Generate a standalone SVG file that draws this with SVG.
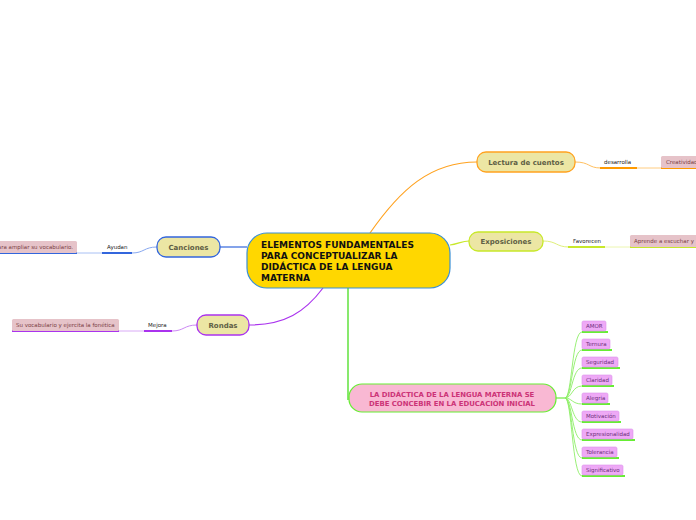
<svg xmlns="http://www.w3.org/2000/svg" width="696" height="520" viewBox="0 0 696 520">
<style>
.main{fill:#FFD700;stroke:#3A8FD6;stroke-width:1.2}
.mt{font-family:"DejaVu Sans",Verdana,sans-serif;font-weight:bold;font-size:9px;fill:#111}
.topic{fill:#ECE6A4;stroke-width:1.3}
.tt{font-family:"DejaVu Sans",Verdana,sans-serif;font-weight:bold;font-size:7px;fill:#5f5f45;text-anchor:middle}
.lbl{font-family:"DejaVu Sans",Verdana,sans-serif;font-size:5.5px;fill:#222}
.pk{fill:#E6C3C9;stroke:none}
.pt{font-family:"DejaVu Sans",Verdana,sans-serif;font-size:5.5px;fill:#7a3f45}
.lf{fill:#EEA9F6;stroke:#DC92EC;stroke-width:0.6}
.lt{font-family:"DejaVu Sans",Verdana,sans-serif;font-size:5.5px;fill:#6b2f7a}
.c{fill:none}
</style>
<rect width="696" height="520" fill="#fff"/>
<g id="connectors">
<path class="c" d="M370,233 C400,190 430,162 477,162" stroke="#FFA21F" stroke-width="1.2"/>
<path class="c" d="M575,162 C590,162 588,168 601,168" stroke="#FFC060" stroke-width="1"/>
<line x1="600" y1="168" x2="637" y2="168" stroke="#FF9A00" stroke-width="2"/>
<line x1="637" y1="168" x2="661" y2="168" stroke="#FFCC80" stroke-width="1"/>
<line x1="661" y1="168" x2="696" y2="168" stroke="#FF9A00" stroke-width="2"/>
<path class="c" d="M450,245 C458,244 462,241 469,241" stroke="#C8E82A" stroke-width="1.2"/>
<path class="c" d="M543,241 C557,241 556,247 569,247" stroke="#E0F07A" stroke-width="1"/>
<line x1="568" y1="247" x2="605" y2="247" stroke="#C8E82A" stroke-width="2"/>
<line x1="605" y1="247" x2="630" y2="247" stroke="#ECF6B0" stroke-width="1"/>
<line x1="630" y1="247" x2="696" y2="247" stroke="#C8E82A" stroke-width="2"/>
<path class="c" d="M247,247 C235,247 230,247 220,247" stroke="#3366DD" stroke-width="1.2"/>
<path class="c" d="M157,247 C144,247 144,253 132,253" stroke="#88A8F0" stroke-width="1"/>
<line x1="102" y1="253" x2="132" y2="253" stroke="#3366DD" stroke-width="2"/>
<line x1="77" y1="253" x2="102" y2="253" stroke="#A8C0F4" stroke-width="1"/>
<line x1="0" y1="253" x2="77" y2="253" stroke="#3366DD" stroke-width="2"/>
<path class="c" d="M323,288 C305,312 285,325 249,325" stroke="#AA33EE" stroke-width="1.2"/>
<path class="c" d="M197,325 C184,325 184,331 172,331" stroke="#CC88F4" stroke-width="1"/>
<line x1="144" y1="331" x2="172" y2="331" stroke="#AA33EE" stroke-width="2"/>
<line x1="119" y1="331" x2="144" y2="331" stroke="#D9AAF6" stroke-width="1"/>
<line x1="12" y1="331" x2="119" y2="331" stroke="#AA33EE" stroke-width="2"/>
<path class="c" d="M348,288 L348,400" stroke="#55E030" stroke-width="1.4"/>
<g stroke="#8DEE66" stroke-width="0.9" fill="none">
<line x1="556" y1="398" x2="565" y2="398" stroke-width="1.5"/>
<path d="M565,398 C572,398 572,332 582,332"/>
<path d="M565,398 C572,398 572,350 582,350"/>
<path d="M565,398 C572,398 572,368 582,368"/>
<path d="M565,398 C572,398 572,386 582,386"/>
<path d="M565,398 C572,398 572,404 582,404"/>
<path d="M565,398 C572,398 572,422 582,422"/>
<path d="M565,398 C572,398 572,440 582,440"/>
<path d="M565,398 C572,398 572,458 582,458"/>
<path d="M565,398 C572,398 572,476 582,476"/>
</g>
<g stroke="#66EE33" stroke-width="2">
<line x1="582" y1="332" x2="608" y2="332"/>
<line x1="582" y1="350" x2="612" y2="350"/>
<line x1="582" y1="368" x2="620" y2="368"/>
<line x1="582" y1="386" x2="614" y2="386"/>
<line x1="582" y1="404" x2="610" y2="404"/>
<line x1="582" y1="422" x2="621" y2="422"/>
<line x1="582" y1="440" x2="635" y2="440"/>
<line x1="582" y1="458" x2="619" y2="458"/>
<line x1="582" y1="476" x2="625" y2="476"/>
</g>
</g>
<g id="central">
<rect class="main" x="247" y="233" width="203" height="55" rx="20"/>
<text class="mt" x="261" y="248">ELEMENTOS FUNDAMENTALES</text>
<text class="mt" x="261" y="259">PARA CONCEPTUALIZAR LA</text>
<text class="mt" x="261" y="270">DIDÁCTICA DE LA LENGUA</text>
<text class="mt" x="261" y="281">MATERNA</text>
</g>
<g id="lectura">
<rect class="topic" x="477" y="152" width="98" height="20" rx="9" stroke="#FFA21F"/>
<text class="tt" x="526" y="164.5">Lectura de cuentos</text>
</g>
<g id="desarrolla"><text class="lbl" x="604" y="164">desarrolla</text></g>
<g id="creatividad">
<rect class="pk" x="661" y="156" width="40" height="12" rx="1.5"/>
<text class="pt" x="666" y="164">Creatividad</text>
</g>
<g id="exposiciones">
<rect class="topic" x="469" y="232" width="74" height="19" rx="9" stroke="#C8E82A"/>
<text class="tt" x="506" y="244">Exposiciones</text>
</g>
<g id="favorecen"><text class="lbl" x="573" y="243">Favorecen</text></g>
<g id="aprende">
<rect class="pk" x="630" y="235" width="70" height="12" rx="1.5"/>
<text class="pt" x="634" y="243">Aprende a escuchar y</text>
</g>
<g id="canciones">
<rect class="topic" x="157" y="237" width="63" height="20" rx="9" stroke="#3366DD"/>
<text class="tt" x="188.5" y="249.5">Canciones</text>
</g>
<g id="ayudan"><text class="lbl" x="107" y="249">Ayudan</text></g>
<g id="ampliar">
<rect class="pk" x="-5" y="241" width="82" height="12" rx="1.5"/>
<text class="pt" x="73" y="249" text-anchor="end">para ampliar su vocabulario.</text>
</g>
<g id="rondas">
<rect class="topic" x="197" y="315" width="52" height="20" rx="9" stroke="#AA33EE"/>
<text class="tt" x="223" y="327.5">Rondas</text>
</g>
<g id="mejora"><text class="lbl" x="148" y="327">Mejora</text></g>
<g id="vocabulario">
<rect class="pk" x="12" y="319" width="107" height="12" rx="1.5"/>
<text class="pt" x="16" y="327">Su vocabulario y ejercita la fonética</text>
</g>
<g id="didactica">
<rect x="349" y="384" width="207" height="28" rx="13" fill="#F9B8D3" stroke="#66EE33" stroke-width="1.2"/>
<text x="452" y="397" text-anchor="middle" font-family="DejaVu Sans,Verdana,sans-serif" font-weight="bold" font-size="6.9" fill="#CC3377">LA DIDÁCTICA DE LA LENGUA MATERNA SE</text>
<text x="452" y="406" text-anchor="middle" font-family="DejaVu Sans,Verdana,sans-serif" font-weight="bold" font-size="6.9" fill="#CC3377">DEBE CONCEBIR EN LA EDUCACIÓN INICIAL</text>
</g>
<g id="amor"><rect class="lf" x="582" y="321" width="24" height="10" rx="1.5"/><text class="lt" x="586" y="328">AMOR</text></g>
<g id="ternura"><rect class="lf" x="582" y="339" width="28" height="10" rx="1.5"/><text class="lt" x="586" y="346">Ternura</text></g>
<g id="seguridad"><rect class="lf" x="582" y="357" width="36" height="10" rx="1.5"/><text class="lt" x="586" y="364">Seguridad</text></g>
<g id="claridad"><rect class="lf" x="582" y="375" width="30" height="10" rx="1.5"/><text class="lt" x="586" y="382">Claridad</text></g>
<g id="alegria"><rect class="lf" x="582" y="393" width="26" height="10" rx="1.5"/><text class="lt" x="586" y="400">Alegria</text></g>
<g id="motivacion"><rect class="lf" x="582" y="411" width="37" height="10" rx="1.5"/><text class="lt" x="586" y="418">Motivación</text></g>
<g id="expresionalidad"><rect class="lf" x="582" y="429" width="51" height="10" rx="1.5"/><text class="lt" x="586" y="436">Expresionalidad</text></g>
<g id="tolerancia"><rect class="lf" x="582" y="447" width="35" height="10" rx="1.5"/><text class="lt" x="586" y="454">Tolerancia</text></g>
<g id="significativo"><rect class="lf" x="582" y="465" width="41" height="10" rx="1.5"/><text class="lt" x="586" y="472">Significativo</text></g>
</svg>
